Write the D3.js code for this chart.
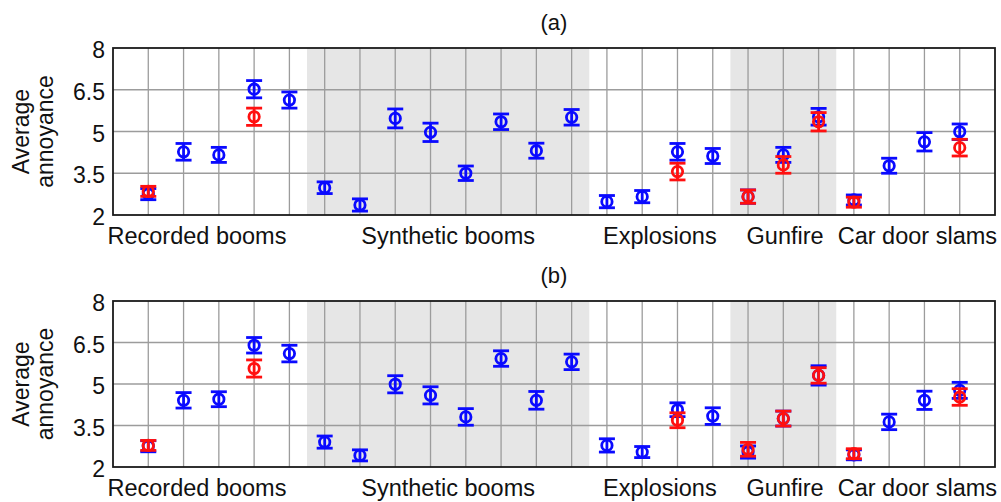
<!DOCTYPE html>
<html>
<head>
<meta charset="utf-8">
<script src="https://cdn.jsdelivr.net/npm/d3@7"></script>
<style>
  html, body { margin: 0; padding: 0; background: #ffffff; }
  svg { display: block; }
  text { font-family: "Liberation Sans", Arial, sans-serif; fill: #111; }
</style>
</head>
<body>
<div id="chart"></div>
<script>
// categories and their number of stimuli (positions 1..24)
const categories = ["Recorded booms", "Synthetic booms", "Explosions", "Gunfire", "Car door slams"];
const categorySizes = [5, 8, 4, 3, 4];
const categoryLabelAt = [2.38, 9.5, 15.5, 19.05, 22.8]; // where each label is centred (stimulus units)
const shadedCategories = ["Synthetic booms", "Gunfire"];
const yTicks = [2, 3.5, 5, 6.5, 8];
const panelTitles = ["(a)", "(b)"];

// blue series: one value per stimulus
const blueA    = [2.75, 4.27, 4.16, 6.52, 6.13, 2.98, 2.36, 5.47, 4.97, 3.50, 5.35, 4.31, 5.51, 2.48, 2.66, 4.27, 4.12, 2.66, 4.16, 5.53, 2.54, 3.77, 4.63, 4.99];
const blueErrA = [0.20, 0.30, 0.27, 0.31, 0.29, 0.21, 0.22, 0.34, 0.33, 0.26, 0.28, 0.27, 0.28, 0.22, 0.22, 0.30, 0.27, 0.24, 0.27, 0.30, 0.18, 0.27, 0.33, 0.28];
const blueB    = [2.75, 4.41, 4.45, 6.40, 6.10, 2.90, 2.42, 4.99, 4.59, 3.81, 5.92, 4.41, 5.80, 2.78, 2.54, 4.07, 3.84, 2.54, 3.75, 5.31, 2.44, 3.63, 4.41, 4.77];
const blueErrB = [0.20, 0.28, 0.27, 0.28, 0.30, 0.22, 0.20, 0.31, 0.31, 0.30, 0.28, 0.32, 0.28, 0.24, 0.20, 0.25, 0.30, 0.22, 0.27, 0.35, 0.18, 0.28, 0.33, 0.29];

// red series: only some stimuli
const redIndex = [1, 4, 16, 18, 19, 20, 21, 24];
const redA     = [2.85, 5.53, 3.56, 2.66, 3.80, 5.35, 2.46, 4.42];
const redErrA  = [0.18, 0.31, 0.30, 0.24, 0.30, 0.33, 0.18, 0.30];
const redB     = [2.78, 5.56, 3.69, 2.64, 3.75, 5.31, 2.48, 4.53];
const redErrB  = [0.18, 0.31, 0.27, 0.25, 0.27, 0.28, 0.18, 0.30];

const COLORS = { blue: "#0a0aff", red: "#ff1010", grid: "#9c9c9c", shade: "#e6e6e6", axis: "#1a1a1a" };

const width = 1001, height = 502;
const margin = { left: 113, right: 6 };
const panels = [
  { title: panelTitles[0], top: 48, bottom: 215, blue: blueA, blueErr: blueErrA, red: redA, redErr: redErrA },
  { title: panelTitles[1], top: 301, bottom: 467, blue: blueB, blueErr: blueErrB, red: redB, redErr: redErrB }
];

const nStim = d3.sum(categorySizes);
const x = d3.scaleLinear().domain([0, nStim + 1]).range([margin.left, width - margin.right]);

// category ranges
let acc = 0;
const groups = categories.map((name, i) => {
  const g = { name, start: acc + 1, end: acc + categorySizes[i], labelAt: categoryLabelAt[i] };
  acc += categorySizes[i];
  return g;
});

const svg = d3.select("#chart").append("svg")
  .attr("width", width).attr("height", height);

function drawPoints(g, y, idx, vals, errs, color) {
  const pts = idx.map((k, i) => ({ k, v: vals[i], e: errs[i] }));
  const cap = 8, r = 5.2;
  const pg = g.append("g").attr("stroke", color).attr("stroke-width", 2.8).attr("fill", "none");
  pts.forEach(d => {
    const cx = x(d.k);
    pg.append("line").attr("x1", cx).attr("x2", cx).attr("y1", y(d.v - d.e)).attr("y2", y(d.v + d.e));
    pg.append("line").attr("x1", cx - cap).attr("x2", cx + cap).attr("y1", y(d.v + d.e)).attr("y2", y(d.v + d.e));
    pg.append("line").attr("x1", cx - cap).attr("x2", cx + cap).attr("y1", y(d.v - d.e)).attr("y2", y(d.v - d.e));
    pg.append("ellipse").attr("cx", cx).attr("cy", y(d.v)).attr("rx", r).attr("ry", r);
  });
}

panels.forEach(p => {
  const y = d3.scaleLinear().domain([2, 8]).range([p.bottom, p.top]);
  const g = svg.append("g");
  const [x0, x1] = x.range();

  // shaded category bands
  groups.filter(gr => shadedCategories.includes(gr.name)).forEach(gr => {
    g.append("rect")
      .attr("x", x(gr.start - 0.5)).attr("width", x(gr.end + 0.5) - x(gr.start - 0.5))
      .attr("y", p.top).attr("height", p.bottom - p.top)
      .attr("fill", COLORS.shade);
  });

  // grid
  const grid = g.append("g").attr("stroke", COLORS.grid).attr("stroke-width", 1.3);
  d3.range(1, nStim + 1).forEach(k => {
    grid.append("line").attr("x1", x(k)).attr("x2", x(k)).attr("y1", p.top).attr("y2", p.bottom);
  });
  yTicks.slice(1, -1).forEach(t => {
    grid.append("line").attr("x1", x0).attr("x2", x1).attr("y1", y(t)).attr("y2", y(t));
  });

  // box
  g.append("rect").attr("x", x0).attr("y", p.top).attr("width", x1 - x0).attr("height", p.bottom - p.top)
    .attr("fill", "none").attr("stroke", COLORS.axis).attr("stroke-width", 1.8);

  // y tick labels
  const yAxis = d3.axisLeft(y).tickValues(yTicks).tickSize(0).tickPadding(8).tickFormat(d3.format("~g"));
  const ya = g.append("g").attr("transform", `translate(${x0},0)`).call(yAxis);
  ya.select(".domain").remove();
  ya.selectAll("text").attr("font-size", "23px").attr("fill", "#111")
    .attr("font-family", "Liberation Sans, Arial, sans-serif").attr("dy", "0.42em");

  // y label
  const cy = (p.top + p.bottom) / 2;
  [["Average", 29], ["annoyance", 53]].forEach(([t, bx]) => {
    g.append("text").attr("transform", `translate(${bx},${cy}) rotate(-90)`)
      .attr("text-anchor", "middle").attr("font-size", "23px").text(t);
  });

  // title
  g.append("text").attr("x", (x0 + x1) / 2).attr("y", p.top - 18)
    .attr("text-anchor", "middle").attr("font-size", "22px").text(p.title);

  // category labels
  groups.forEach(gr => {
    g.append("text").attr("x", x(gr.labelAt)).attr("y", p.bottom + 29).attr("text-anchor", "middle")
      .attr("font-size", "23.5px").text(gr.name);
  });

  // points
  drawPoints(g, y, d3.range(1, nStim + 1), p.blue, p.blueErr, COLORS.blue);
  drawPoints(g, y, redIndex, p.red, p.redErr, COLORS.red);
});
</script>
</body>
</html>
